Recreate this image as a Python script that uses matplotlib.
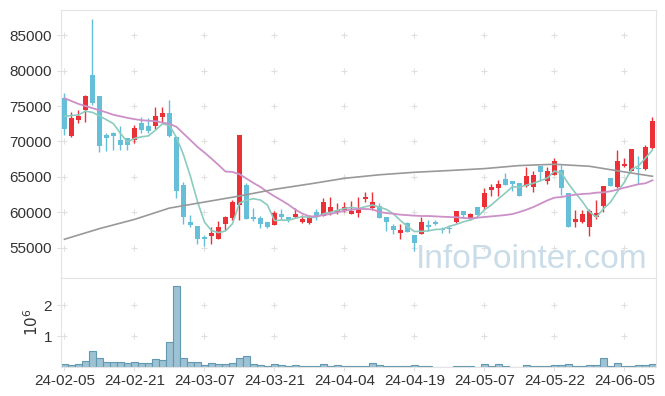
import matplotlib
matplotlib.use("Agg")
import matplotlib.pyplot as plt
from matplotlib.ticker import FuncFormatter
import numpy as np
import pandas as pd

plt.rcParams['font.family'] = ['Liberation Sans Narrow', 'Liberation Sans', 'DejaVu Sans']

# daily candles, 2024-02-05 .. 2024-06-12 (trading days)
opens = [76100, 70800, 73000, 74400, 79400, 76400, 70900, 71200, 70200, 70500,
         70200, 72600, 72200, 72200, 73500, 74000, 70600, 63800, 58700, 58000,
         56500, 56650, 56200, 58350, 59200, 61100, 63800, 59400, 59150, 58700,
         58200, 59700, 59400, 59400, 58600, 58500, 60100, 59500, 60100, 60000,
         60300, 59750, 59950, 61900, 60600, 60850, 59300, 58000, 57100, 58550,
         56750, 56950, 58150, 58650, 57700, 57800, 58600, 60150, 59050, 60700,
         60700, 63150, 63500, 64750, 64450, 64100, 63750, 63600, 66500, 64400,
         65200, 66000, 62700, 58700, 58650, 57900, 59400, 60950, 64850, 63600,
         66550, 65850, 66200, 66100, 69100]
closes = [71800, 73300, 73550, 76400, 75450, 69400, 70500, 70800, 69500, 69500,
          71850, 71600, 71500, 73550, 73950, 70750, 63000, 59350, 58200, 56300,
          56250, 57050, 57900, 59300, 61400, 70900, 59000, 59000, 58350, 57900,
          59950, 59300, 58950, 59750, 59000, 59400, 59450, 61400, 60800, 60350,
          60750, 60150, 60650, 62100, 61500, 59200, 58600, 57500, 57450, 57250,
          55650, 58700, 57900, 58400, 57450, 57650, 60150, 59650, 59700, 59600,
          62700, 63600, 64000, 63800, 63950, 62350, 65100, 65300, 65650, 65800,
          67300, 63500, 57900, 59100, 59700, 60150, 59850, 63700, 63700, 67200,
          66850, 68900, 66100, 69200, 72850]
highs = [76900, 74200, 74500, 76500, 87250, 76400, 71250, 71350, 72250, 70500,
         72300, 73400, 73250, 74850, 74800, 75900, 70600, 64300, 59600, 58000,
         56750, 57900, 58750, 59500, 61800, 70900, 64200, 60550, 59450, 58700,
         60250, 60400, 59400, 60650, 59650, 59650, 60400, 62000, 62100, 61350,
         61450, 61650, 62150, 62850, 62850, 61300, 59300, 58400, 58350, 58700,
         56750, 59350, 58950, 58850, 57900, 58150, 60150, 60150, 59900, 60700,
         63500, 63950, 64550, 65500, 64450, 64100, 66350, 65800, 66500, 66400,
         67650, 66650, 62750, 60350, 60350, 60450, 61750, 63700, 64850, 68850,
         67700, 68900, 67950, 69500, 73400]
lows = [70900, 70650, 72550, 72800, 75200, 68450, 68600, 68850, 68850, 68850,
        69750, 71250, 71200, 71800, 72800, 70700, 62050, 58400, 57900, 55550,
        55200, 55550, 56200, 57450, 58850, 58950, 59000, 58750, 57800, 57800,
        58150, 58950, 58600, 59150, 58550, 58400, 58950, 59450, 59600, 59700,
        60100, 59700, 59350, 61450, 60300, 59200, 57400, 57000, 56200, 57200,
        54550, 56900, 57350, 58200, 57050, 57100, 58550, 59150, 58950, 59600,
        60450, 62250, 62300, 63800, 63050, 62350, 63550, 62850, 64400, 64050,
        65200, 62400, 57900, 57900, 58550, 56700, 59100, 60050, 63700, 63500,
        66400, 65850, 64050, 66000, 69000]
volumes = [100000, 65000, 100000, 200000, 530000, 320000, 170000, 170000, 170000, 140000,
           170000, 140000, 140000, 260000, 240000, 820000, 2620000, 290000, 170000, 170000,
           75000, 140000, 110000, 110000, 140000, 300000, 370000, 100000, 65000, 40000,
           100000, 65000, 40000, 65000, 40000, 40000, 40000, 100000, 40000, 65000,
           40000, 40000, 40000, 40000, 160000, 65000, 40000, 40000, 40000, 40000,
           65000, 40000, 40000, 0, 0, 0, 40000, 40000, 40000, 0,
           100000, 40000, 100000, 40000, 0, 0, 65000, 40000, 40000, 40000,
           65000, 65000, 100000, 40000, 40000, 65000, 65000, 320000, 40000, 130000,
           40000, 40000, 65000, 65000, 100000]

# moving averages
ma5_head = [73570, 73660, 73760, 74280]
ma20 = [76100, 75700, 75300, 75000, 74700, 74400, 74100, 73760, 73550, 73330,
        73150, 73000, 72930, 72860, 72670, 72490, 72060, 71120, 70180, 69230,
        68430, 67580, 66690, 65750, 65700, 65370, 64760, 64140, 63580, 62870,
        62260, 61690, 61080, 60370, 59810, 59430, 59430, 59620, 59760, 60000,
        60230, 60370, 60470, 60470, 60420, 60040, 59900, 59800, 59670, 59600,
        59530, 59480, 59480, 59430, 59380, 59340, 59300, 59200, 59150, 59240,
        59340, 59430, 59520, 59620, 59760, 60040, 60370, 60750, 61220, 61690,
        62070, 62160, 62350, 62490, 62590, 62640, 62780, 62820, 62970, 63200,
        63480, 63720, 63960, 64100, 64520]
ma120_pos = [0, 5, 10, 15, 20, 25, 30, 35, 40, 45, 50, 55, 60, 65, 70, 75, 80, 84]
ma120 = [56200, 57700, 59000, 60600, 61450, 62300, 63250, 64000, 64800, 65300,
         65650, 65900, 66170, 66600, 66780, 66500, 65700, 65090]

tick_labels = ['24-02-05', '24-02-21', '24-03-07', '24-03-21', '24-04-04',
               '24-04-19', '24-05-07', '24-05-22', '24-06-05']

x = np.arange(len(closes))
o = np.array(opens)
c = np.array(closes)
ma5 = pd.Series(closes).rolling(5).mean().to_numpy()
ma5[:4] = ma5_head

up_color = '#ec3038'
down_color = '#65bfd8'
colors = [up_color if cc >= oo else down_color for oo, cc in zip(o, c)]

fig = plt.figure(figsize=(6.65, 3.96), dpi=100)
ax1 = fig.add_axes([0.0917, 0.2992, 0.8947, 0.6755])
ax2 = fig.add_axes([0.0917, 0.072, 0.8947, 0.2272], sharex=ax1)

# candles
ax1.vlines(x, lows, highs, colors=colors, lw=1.0, zorder=2)
body = np.maximum(np.abs(c - o), 60)
ax1.bar(x, body, bottom=np.minimum(o, c), width=0.78, color=colors, zorder=3)

ax1.plot(x, ma5, color='#8ccbbf', lw=1.2, zorder=4)
ax1.plot(x, ma20, color='#cc90c9', lw=1.3, zorder=4)
ax1.plot(ma120_pos, ma120, color='#999999', lw=1.2, zorder=4)

ax1.set_ylim(50800, 88550)
ax1.set_xlim(-0.5, 84.5)
yt = list(range(55000, 85001, 5000))
ax1.set_yticks(yt)
ax1.set_xticks(range(0, 85, 10))
ax1.tick_params(axis='x', labelbottom=False)

# faint "+" grid marks
gx, gy = np.meshgrid(np.arange(0, 85, 10), yt)
ax1.plot(gx.ravel(), gy.ravel(), ls='none', marker='+', ms=5, mew=0.8,
         color='#e0e0e0', zorder=0)

ax1.text(0.985, 0.035, 'InfoPointer.com', transform=ax1.transAxes,
         ha='right', va='baseline', fontsize=24, color='#c9dce7', zorder=1)

# volume
ax2.bar(x, volumes, width=1.0, color='#9dc2d3', edgecolor='#6298b0', lw=0.8)
ax2.set_ylim(0, 2.9e6)
ax2.set_yticks([1e6, 2e6])
ax2.yaxis.set_major_formatter(FuncFormatter(lambda v, p: '%d' % round(v / 1e6)))
ax2.set_ylabel('$10^6$', fontsize=11, color='#333333', labelpad=2)
gx2, gy2 = np.meshgrid(np.arange(0, 85, 10), [1e6, 2e6])
ax2.plot(gx2.ravel(), gy2.ravel(), ls='none', marker='+', ms=5, mew=0.8,
         color='#e0e0e0', zorder=0)
ax2.set_xticks(range(0, 85, 10))
ax2.set_xticklabels(tick_labels)

for ax in (ax1, ax2):
    for s in ax.spines.values():
        s.set_color('#e4e4e4')
    ax.tick_params(length=3, color='#e0e0e0', labelsize=11, labelcolor='#333333')
ax2.tick_params(axis='x', pad=2)

fig.savefig('out.png', dpi=100)
